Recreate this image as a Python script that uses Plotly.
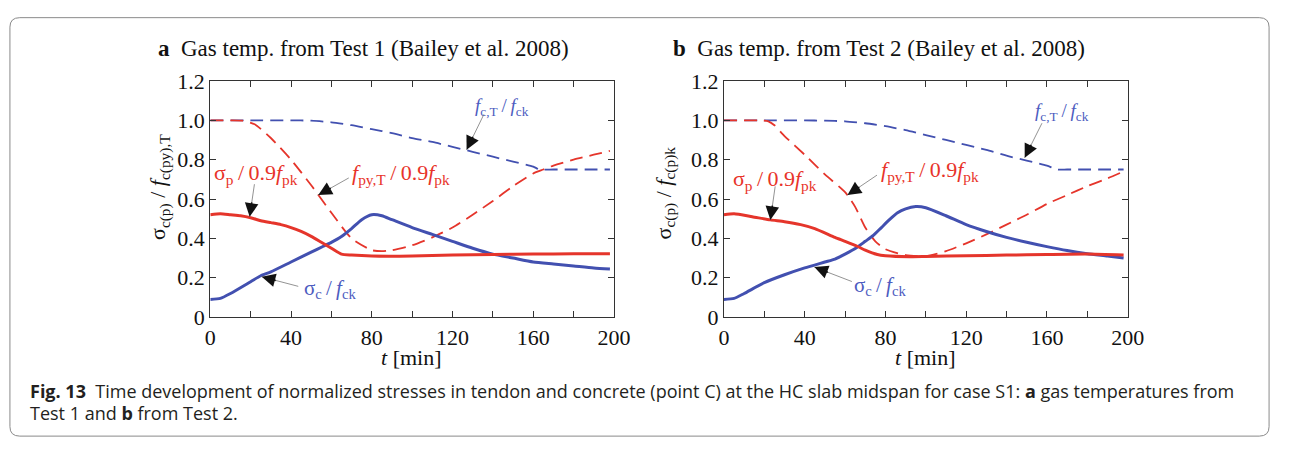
import plotly.graph_objects as go

# ---------------- data ----------------
# Panel a: gas temperature from Test 1
t_a_sc = [0, 5, 10, 20, 25, 30, 40, 50, 56, 60, 65, 70, 75, 80, 85, 90, 100, 110, 120, 130, 140, 150, 160, 170, 180, 190, 198]
sc_a = [0.09, 0.095, 0.12, 0.18, 0.21, 0.23, 0.28, 0.33, 0.36, 0.38, 0.41, 0.45, 0.495, 0.52, 0.515, 0.495, 0.455, 0.42, 0.385, 0.35, 0.32, 0.30, 0.28, 0.27, 0.26, 0.25, 0.245]

t_a_sp = [0, 5, 10, 15, 20, 25, 30, 35, 40, 45, 50, 55, 60, 65, 70, 80, 100, 120, 140, 160, 180, 198]
sp_a = [0.52, 0.525, 0.52, 0.515, 0.505, 0.49, 0.48, 0.47, 0.455, 0.435, 0.41, 0.38, 0.35, 0.32, 0.315, 0.31, 0.31, 0.315, 0.318, 0.32, 0.322, 0.322]

t_a_fpy = [0, 10, 16, 22, 30, 40, 50, 60, 70, 80, 85, 90, 100, 110, 120, 130, 140, 150, 160, 165, 170, 180, 190, 198]
fpy_a = [1.0, 1.0, 0.998, 0.98, 0.91, 0.80, 0.67, 0.53, 0.40, 0.34, 0.335, 0.34, 0.365, 0.405, 0.455, 0.52, 0.59, 0.665, 0.73, 0.75, 0.77, 0.80, 0.825, 0.845]

t_a_fc = [0, 20, 40, 50, 60, 70, 80, 90, 100, 110, 120, 130, 140, 150, 160, 163, 170, 180, 190, 198]
fc_a = [1.0, 1.0, 1.0, 0.998, 0.99, 0.975, 0.955, 0.935, 0.91, 0.89, 0.865, 0.84, 0.815, 0.79, 0.765, 0.75, 0.75, 0.75, 0.75, 0.75]

# Panel b: gas temperature from Test 2
t_b_sc = [0, 5, 10, 20, 30, 40, 50, 55, 60, 66, 70, 74, 78, 82, 86, 90, 95, 100, 110, 120, 130, 140, 150, 160, 170, 180, 190, 198]
sc_b = [0.09, 0.095, 0.12, 0.175, 0.215, 0.25, 0.28, 0.295, 0.32, 0.355, 0.385, 0.415, 0.455, 0.495, 0.53, 0.55, 0.562, 0.556, 0.515, 0.47, 0.435, 0.405, 0.38, 0.358, 0.338, 0.322, 0.31, 0.30]

t_b_sp = [0, 5, 14, 23, 30, 38, 45, 55, 60, 66, 70, 76, 80, 92, 100, 120, 140, 160, 180, 198]
sp_b = [0.52, 0.525, 0.51, 0.494, 0.485, 0.47, 0.45, 0.405, 0.385, 0.36, 0.34, 0.318, 0.312, 0.307, 0.308, 0.312, 0.315, 0.318, 0.32, 0.315]

t_b_fpy = [0, 10, 19, 22, 25, 30, 40, 50, 60, 65, 70, 75, 80, 90, 100, 110, 120, 130, 140, 150, 160, 170, 180, 190, 198]
fpy_b = [1.0, 1.0, 0.999, 0.995, 0.975, 0.92, 0.825, 0.725, 0.635, 0.56, 0.455, 0.385, 0.345, 0.315, 0.31, 0.335, 0.375, 0.42, 0.47, 0.52, 0.575, 0.62, 0.665, 0.705, 0.74]

t_b_fc = [0, 20, 40, 50, 60, 70, 80, 90, 100, 110, 120, 130, 140, 150, 160, 165, 170, 180, 190, 198]
fc_b = [1.0, 1.0, 1.0, 0.998, 0.995, 0.985, 0.97, 0.95, 0.925, 0.9, 0.875, 0.85, 0.82, 0.795, 0.77, 0.75, 0.75, 0.75, 0.75, 0.75]

x_tickvals = [0, 20, 40, 60, 80, 100, 120, 140, 160, 180, 200]
x_ticktext = ["0", "", "40", "", "80", "", "120", "", "160", "", "200"]
y_tickvals = [0, 0.2, 0.4, 0.6, 0.8, 1.0, 1.2]
y_ticktext = ["0", "0.2", "0.4", "0.6", "0.8", "1.0", "1.2"]

titles = ["Gas temp. from Test 1 (Bailey et al. 2008)", "Gas temp. from Test 2 (Bailey et al. 2008)"]
panel_letters = ["a", "b"]
ylabels = ["σ<sub>c(p)</sub> / <i>f</i><sub>c(py),T</sub>", "σ<sub>c(p)</sub> / <i>f</i><sub>c(p)k</sub>"]

# ---------------- styling ----------------
W, H = 1290, 451
RED = "#e5352b"
BLUE = "#4250b0"
RED_T = "#e8332a"
BLUE_T = "#4d5cc0"
SERIF = "Liberation Serif, Times New Roman, serif"


def px(x):
    return x / W


def py(y):
    return 1 - y / H


fig = go.Figure()

panels = [
    dict(xa="x", ya="y", data=[(t_a_fc, fc_a, BLUE, "dash"), (t_a_fpy, fpy_a, RED, "dash"),
                               (t_a_sc, sc_a, BLUE, "solid"), (t_a_sp, sp_a, RED, "solid")]),
    dict(xa="x2", ya="y2", data=[(t_b_fc, fc_b, BLUE, "dash"), (t_b_fpy, fpy_b, RED, "dash"),
                                 (t_b_sc, sc_b, BLUE, "solid"), (t_b_sp, sp_b, RED, "solid")]),
]

for p in panels:
    for tx, vy, col, dash in p["data"]:
        fig.add_trace(go.Scatter(
            x=tx, y=vy, mode="lines", xaxis=p["xa"], yaxis=p["ya"],
            line=dict(color=col, width=3 if dash == "solid" else 1.8,
                      dash="13px,7px" if dash == "dash" else "solid", shape="spline", smoothing=0.6),
            showlegend=False, hoverinfo="skip"))

x_domains = [[px(208), px(619)], [px(731), px(1142)]]
y_domain = [py(323), py(73)]

axis_common = dict(showline=True, mirror="ticks", linecolor="#333", linewidth=1.2,
                   ticks="inside", ticklen=6, tickcolor="#333", tickwidth=1,
                   showgrid=False, zeroline=False,
                   tickfont=dict(family=SERIF, size=22, color="#111"))

fig.update_layout(
    width=W, height=H, margin=dict(l=0, r=0, t=0, b=0),
    paper_bgcolor="white", plot_bgcolor="white",
    xaxis=dict(domain=x_domains[0], range=[0, 200], tickvals=x_tickvals, ticktext=x_ticktext, anchor="y", **axis_common),
    yaxis=dict(domain=y_domain, range=[0, 1.2], tickvals=y_tickvals, ticktext=y_ticktext, anchor="x", **axis_common),
    xaxis2=dict(domain=x_domains[1], range=[0, 200], tickvals=x_tickvals, ticktext=x_ticktext, anchor="y2", **axis_common),
    yaxis2=dict(domain=y_domain, range=[0, 1.2], tickvals=y_tickvals, ticktext=y_ticktext, anchor="x2", **axis_common),
)

ann = []
# titles
for i, (lx, lab) in enumerate([(153, panel_letters[0]), (677, panel_letters[1])]):
    ann.append(dict(xref="paper", yref="paper", x=px(lx), y=py(39), xanchor="left", yanchor="middle",
                    text=f"<b>{lab}</b>\u00a0\u00a0{titles[i]}", showarrow=False,
                    font=dict(family=SERIF, size=23, color="#111")))
# y-axis titles
for cx, cy, txt in [(157, 185, ylabels[0]), (671, 192, ylabels[1])]:
    ann.append(dict(xref="paper", yref="paper", x=px(cx), y=py(cy), xanchor="center", yanchor="middle",
                    text=txt, textangle=-90, showarrow=False,
                    font=dict(family=SERIF, size=22, color="#111")))
# x-axis titles
for cx in [413, 936]:
    ann.append(dict(xref="paper", yref="paper", x=px(cx), y=py(366), xanchor="center", yanchor="middle",
                    text="<i>t</i> [min]", showarrow=False,
                    font=dict(family=SERIF, size=22, color="#111")))

# curve labels
lab_fc = "<i>f</i><sub>c,T</sub>\u2009/\u2009<i>f</i><sub>ck</sub>"
lab_sp = "σ<sub>p</sub>\u2009/\u20090.9<i>f</i><sub>pk</sub>"
lab_fpy = "<i>f</i><sub>py,T</sub>\u2009/\u20090.9<i>f</i><sub>pk</sub>"
lab_sc = "σ<sub>c</sub>\u2009/\u2009<i>f</i><sub>ck</sub>"
labels = [
    (505, 101, lab_fc, BLUE_T, 19), (255, 172, lab_sp, RED_T, 22), (402, 172, lab_fpy, RED_T, 22), (330, 293, lab_sc, BLUE_T, 21),
    (1075, 106, lab_fc, BLUE_T, 19), (783, 178, lab_sp, RED_T, 22), (941, 168, lab_fpy, RED_T, 22), (890, 290, lab_sc, BLUE_T, 21),
]
for cx, cy, txt, col, fs in labels:
    ann.append(dict(xref="paper", yref="paper", x=px(cx), y=py(cy), xanchor="center", yanchor="middle",
                    text=txt, showarrow=False, font=dict(family=SERIF, size=fs, color=col)))

# arrows: (xref, yref, head t, head v, ax, ay)
arrows = [
    ("x", "y", 127, 0.85, 18, -37), ("x", "y", 19.5, 0.51, 5, -34),
    ("x", "y", 53.5, 0.62, 32, -18), ("x", "y", 25.5, 0.205, 38, 10),
    ("x2", "y2", 149, 0.81, 18, -36), ("x2", "y2", 23, 0.494, 5, -35),
    ("x2", "y2", 61.2, 0.62, 31, -21), ("x2", "y2", 44.8, 0.254, 39, 15),
]
for xr, yr, hx, hy, ax, ay in arrows:
    ann.append(dict(xref=xr, yref=yr, x=hx, y=hy, ax=ax, ay=ay, text="", showarrow=True,
                    arrowhead=0, arrowwidth=0.8, arrowcolor="#777"))
    L = (ax * ax + ay * ay) ** 0.5
    ann.append(dict(xref=xr, yref=yr, x=hx, y=hy, ax=ax / L * 16, ay=ay / L * 16, text="", showarrow=True,
                    arrowhead=2, arrowsize=1.7, arrowwidth=1.6, arrowcolor="#111"))

# caption
CAP = "Open Sans, Noto Sans, sans-serif"
ann.append(dict(xref="paper", yref="paper", x=px(22), y=py(401), xanchor="left", yanchor="middle", showarrow=False,
                text="<b>Fig. 13</b>\u00a0\u00a0Time development of normalized stresses in tendon and concrete (point C) at the HC slab midspan for case S1: <b>a</b> gas temperatures from",
                font=dict(family=CAP, size=18, color="#231f20")))
ann.append(dict(xref="paper", yref="paper", x=px(22), y=py(425), xanchor="left", yanchor="middle", showarrow=False,
                text="Test 1 and <b>b</b> from Test 2.",
                font=dict(family=CAP, size=18, color="#231f20")))

fig.update_layout(annotations=ann)

# rounded outer frame
x0, y0, x1, y1, r = 4, 6, 1286, 449, 10
path = (f"M {px(x0 + r)} {py(y0)} L {px(x1 - r)} {py(y0)} Q {px(x1)} {py(y0)} {px(x1)} {py(y0 + r)} "
        f"L {px(x1)} {py(y1 - r)} Q {px(x1)} {py(y1)} {px(x1 - r)} {py(y1)} "
        f"L {px(x0 + r)} {py(y1)} Q {px(x0)} {py(y1)} {px(x0)} {py(y1 - r)} "
        f"L {px(x0)} {py(y0 + r)} Q {px(x0)} {py(y0)} {px(x0 + r)} {py(y0)} Z")
fig.add_shape(type="path", xref="paper", yref="paper", path=path, line=dict(color="#8a8a8a", width=1))

fig.write_html("out.html", config={"displayModeBar": False},
               post_script="document.documentElement.style.margin='0';document.body.style.margin='0';"
                           "document.body.style.overflow='hidden';")
